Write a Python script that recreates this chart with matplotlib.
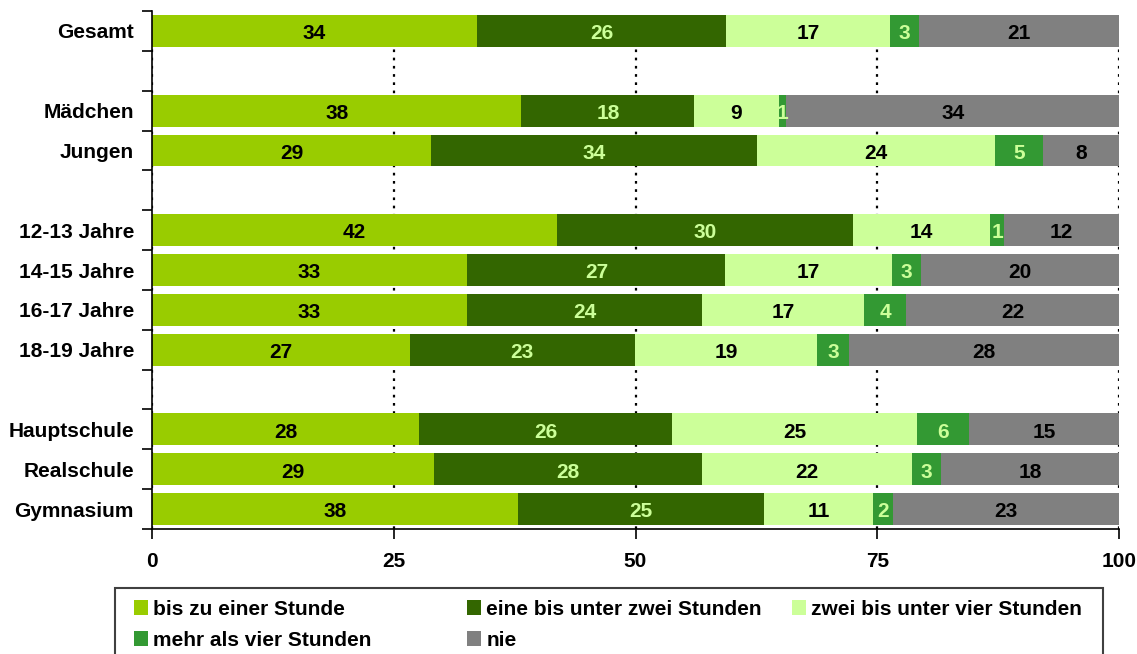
import numpy as np
import matplotlib
matplotlib.use('Agg')
import matplotlib.pyplot as plt
from matplotlib.patches import Patch, Rectangle

plt.rcParams['font.family'] = ['Liberation Sans', 'DejaVu Sans']
plt.rcParams['font.weight'] = 'bold'

# rows top to bottom, '' = spacer
categories = ['Gesamt', '', 'Mädchen', 'Jungen', '', '12-13 Jahre', '14-15 Jahre',
              '16-17 Jahre', '18-19 Jahre', '', 'Hauptschule', 'Realschule', 'Gymnasium']

series_names = ['bis zu einer Stunde', 'eine bis unter zwei Stunden',
                'zwei bis unter vier Stunden', 'mehr als vier Stunden', 'nie']

# segment shares in percent
bis_eine = [33.6, None, 38.2, 28.9, None, 41.9, 32.6, 32.6, 26.7, None, 27.6, 29.2, 37.8]
eine_zwei = [25.8, None, 17.9, 33.7, None, 30.6, 26.7, 24.3, 23.2, None, 26.2, 27.7, 25.5]
zwei_vier = [16.9, None, 8.7, 24.6, None, 14.2, 17.2, 16.7, 18.9, None, 25.3, 21.7, 11.3]
mehr_vier = [3.0, None, 0.8, 4.9, None, 1.4, 3.0, 4.4, 3.3, None, 5.4, 3.0, 2.0]
nie = [20.7, None, 34.4, 7.9, None, 11.9, 20.5, 22.0, 27.9, None, 15.5, 18.4, 23.4]

# printed labels
lab_bis_eine = [34, None, 38, 29, None, 42, 33, 33, 27, None, 28, 29, 38]
lab_eine_zwei = [26, None, 18, 34, None, 30, 27, 24, 23, None, 26, 28, 25]
lab_zwei_vier = [17, None, 9, 24, None, 14, 17, 17, 19, None, 25, 22, 11]
lab_mehr_vier = [3, None, 1, 5, None, 1, 3, 4, 3, None, 6, 3, 2]
lab_nie = [21, None, 34, 8, None, 12, 20, 22, 28, None, 15, 18, 23]

colors = ['#99CC00', '#336600', '#CCFF99', '#339933', '#808080']
text_colors = ['black', '#CCFF99', 'black', '#CCFF99', 'black']

series = [bis_eine, eine_zwei, zwei_vier, mehr_vier, nie]
labels = [lab_bis_eine, lab_eine_zwei, lab_zwei_vier, lab_mehr_vier, lab_nie]

fig = plt.figure(figsize=(11.37, 6.54), dpi=100)
ax = fig.add_axes([152 / 1137, 1 - 529 / 654, 967 / 1137, 518 / 654])

rows = [i for i, c in enumerate(categories) if c]
vals = np.array([[s[i] for s in series] for i in rows], dtype=float)
labs = np.array([[l[i] for l in labels] for i in rows])
totals = vals.sum(axis=1)
left = np.zeros(len(rows))
for k in range(len(series)):
    width = vals[:, k] / totals * 100
    ax.barh(rows, width, left=left, height=0.8, color=colors[k], zorder=2)
    for r, l, w, v in zip(rows, left, width, labs[:, k]):
        ax.text(l + w / 2, r + 0.02, f'{v}', ha='center', va='center_baseline',
                color=text_colors[k], fontsize=15, fontweight='bold', zorder=3)
    left += width

ax.set_xlim(0, 100)
ax.set_ylim(12.5, -0.5)
ax.set_xticks([0, 25, 50, 75, 100])
ax.tick_params(axis='x', length=7, width=1.2, pad=9.5, labelsize=15)
ax.set_yticks(np.arange(-0.5, 13, 1))
ax.set_yticklabels([])
ax.tick_params(axis='y', which='major', length=7, width=1.2)
ax.set_yticks(np.arange(len(categories)), minor=True)
ax.set_yticklabels(categories, minor=True)
ax.tick_params(axis='y', which='minor', length=0, pad=13, labelsize=15)
ax.xaxis.grid(True, color='black', linestyle=(0, (1.2, 2.5)), linewidth=1.6, zorder=0)
ax.set_axisbelow(True)
for side in ['top', 'right']:
    ax.spines[side].set_visible(False)
for side in ['left', 'bottom']:
    ax.spines[side].set_linewidth(1.2)

# legend frame
fig.patches.append(Rectangle((115 / 1137, -0.05), (1103 - 115) / 1137, 1 - 588 / 654 + 0.05,
                             transform=fig.transFigure, fill=False, edgecolor='#404040',
                             linewidth=1.5))
handles = [Patch(facecolor=c) for c in colors]
cols = [[0, 3], [1, 4], [2]]
xs = [119, 452, 777]
for col, x in zip(cols, xs):
    fig.legend([handles[i] for i in col], [series_names[i] for i in col],
               loc='upper left', bbox_to_anchor=(x / 1137, 1 - 585 / 654),
               frameon=False, fontsize=15, handlelength=0.7, handleheight=0.7,
               handletextpad=0.25, labelspacing=0.6, borderpad=0.2)

fig.savefig('out.png', dpi=100)
